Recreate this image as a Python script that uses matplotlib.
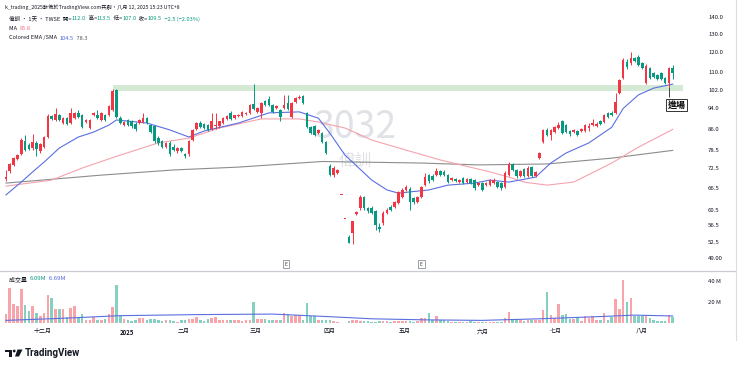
import matplotlib
matplotlib.use("Agg")
import matplotlib.pyplot as plt
import numpy as np
import matplotlib.transforms as mtransforms
from matplotlib.patches import Polygon, Circle

plt.rcParams['font.family'] = ['Noto Sans CJK TC', 'DejaVu Sans']

# ---------------- data ----------------
opens = [69.2, 71.6, 73.6, 75.5, 77.0, 81.6, 80.3, 79.0, 80.8, 78.0,
         79.6, 83.0, 90.9, 89.4, 91.3, 88.2, 90.1, 88.2, 90.1, 92.2,
         91.3, 88.6, 86.3, 91.3, 91.3, 89.4, 91.3, 91.3, 93.4, 101.9,
         90.0, 87.5, 89.2, 89.0, 88.0, 88.2, 88.6, 90.0, 87.5, 87.0,
         82.5, 81.5, 79.5, 81.0, 79.5, 78.0, 79.0, 77.0, 77.0, 82.0,
         86.0, 88.2, 87.8, 87.3, 86.0, 87.0, 87.0, 88.3, 89.9, 92.0,
         90.0, 90.8, 90.8, 91.8, 92.2, 95.8, 92.6, 92.2, 97.1, 98.0,
         95.4, 94.1, 93.4, 94.1, 96.2, 90.5, 96.6, 98.4, 99.3, 92.2,
         86.6, 87.0, 84.4, 84.4, 81.2, 73.2, 70.3, 71.0, 64.5, 58.1,
         53.8, 54.6, 59.3, 60.9, 63.9, 60.9, 61.0, 60.1, 56.2, 57.0,
         59.6, 61.2, 61.2, 62.3, 63.9, 65.9, 66.2, 63.7, 62.5, 63.9,
         67.3, 70.3, 70.0, 70.3, 71.6, 71.3, 70.3, 68.8, 69.1, 68.2,
         69.4, 68.2, 69.1, 68.8, 67.3, 67.9, 67.3, 67.3, 67.9, 68.2,
         67.9, 66.7, 70.3, 73.8, 71.9, 69.9, 72.2, 69.9, 72.9, 69.9,
         75.7, 81.2, 85.6, 83.7, 84.8, 86.3, 88.9, 87.4, 85.2, 84.8,
         85.2, 85.2, 85.2, 86.3, 87.4, 87.0, 88.9, 88.6, 92.2, 92.2,
         92.2, 100.6, 107.2, 115.0, 114.5, 117.1, 117.6, 114.5, 105.0, 112.0,
         109.6, 108.6, 109.6, 107.2, 105.0, 112.0]
highs = [71.8, 74.2, 76.0, 77.2, 82.8, 83.8, 81.0, 84.0, 81.5, 80.8,
         83.5, 91.6, 91.3, 94.1, 91.7, 90.5, 90.5, 94.1, 92.6, 93.4,
         91.7, 89.8, 89.8, 92.6, 93.4, 92.6, 91.7, 95.4, 102.5, 102.3,
         90.8, 89.0, 89.8, 89.5, 88.5, 89.8, 92.3, 90.5, 88.0, 87.5,
         83.5, 82.0, 81.3, 81.5, 80.5, 79.5, 79.3, 77.5, 81.8, 86.0,
         88.5, 88.8, 88.2, 87.8, 92.0, 92.0, 89.0, 90.5, 91.2, 92.8,
         91.5, 91.8, 93.0, 92.6, 95.8, 104.5, 94.6, 96.6, 97.6, 99.3,
         95.8, 95.4, 93.8, 99.7, 99.7, 96.6, 98.8, 99.7, 99.7, 92.6,
         87.0, 87.4, 86.0, 84.8, 81.6, 73.8, 73.0, 72.3, 64.5, 58.1,
         54.2, 57.6, 60.2, 64.5, 64.3, 61.2, 61.4, 60.5, 57.0, 60.0,
         60.8, 61.6, 62.9, 65.6, 66.4, 67.3, 66.7, 64.0, 64.3, 67.1,
         71.0, 70.6, 70.5, 72.6, 72.0, 71.8, 70.6, 69.8, 69.5, 69.2,
         69.8, 69.5, 69.5, 69.2, 68.3, 68.2, 68.3, 69.2, 69.5, 68.5,
         68.2, 71.6, 74.5, 74.2, 72.3, 72.0, 72.6, 73.0, 73.3, 71.6,
         77.8, 86.0, 86.3, 86.0, 87.0, 88.6, 89.4, 87.8, 85.6, 86.0,
         85.6, 86.3, 87.8, 88.2, 89.8, 88.6, 89.4, 91.8, 92.6, 92.8,
         100.6, 107.0, 117.0, 116.5, 120.2, 117.6, 118.6, 115.0, 114.0, 112.5,
         110.0, 109.1, 110.0, 107.6, 112.4, 113.5]
lows = [68.6, 71.0, 73.2, 75.0, 76.6, 78.0, 78.3, 78.6, 76.5, 77.5,
        79.0, 82.5, 89.4, 89.0, 89.0, 87.8, 87.4, 87.8, 89.8, 90.1,
        86.3, 88.2, 85.9, 90.9, 89.8, 89.0, 89.0, 90.9, 93.0, 90.3,
        87.8, 87.0, 87.0, 86.5, 85.3, 87.8, 88.2, 88.0, 84.5, 80.8,
        80.3, 79.0, 79.0, 76.5, 78.2, 77.5, 77.8, 75.8, 76.5, 81.6,
        85.6, 86.3, 86.0, 85.2, 85.5, 86.0, 86.5, 88.0, 89.5, 89.5,
        89.6, 90.4, 90.4, 91.4, 91.8, 93.4, 92.2, 90.1, 95.0, 95.0,
        92.2, 93.8, 89.0, 93.8, 93.4, 90.1, 96.2, 98.0, 95.8, 86.2,
        84.0, 83.3, 84.0, 80.8, 77.0, 70.0, 69.8, 70.6, 64.5, 58.1,
        52.3, 52.0, 59.0, 60.5, 60.5, 59.6, 59.3, 55.3, 54.8, 56.6,
        59.3, 60.0, 60.9, 62.0, 63.5, 65.5, 60.4, 62.0, 62.2, 63.5,
        67.0, 68.0, 68.4, 70.0, 70.0, 70.0, 67.9, 68.5, 68.2, 67.9,
        67.6, 67.9, 67.6, 66.0, 67.0, 65.5, 67.0, 67.0, 67.6, 66.4,
        66.0, 66.4, 70.0, 71.6, 69.5, 69.6, 69.7, 69.6, 69.6, 69.6,
        75.4, 80.8, 83.3, 81.9, 84.4, 86.0, 84.0, 84.4, 83.3, 84.4,
        83.3, 84.8, 84.8, 85.2, 87.0, 86.6, 87.4, 88.2, 90.1, 90.9,
        91.8, 100.2, 106.8, 111.8, 113.8, 115.0, 113.0, 111.5, 104.5, 106.8,
        107.2, 106.6, 106.4, 104.5, 103.2, 107.0]
closes = [69.6, 73.8, 75.6, 76.8, 82.0, 78.5, 78.8, 81.2, 78.8, 80.4,
          83.0, 91.0, 89.8, 91.7, 89.4, 90.1, 87.8, 92.2, 92.2, 90.5,
          86.6, 89.4, 89.4, 92.2, 90.1, 92.2, 89.4, 95.0, 101.5, 90.7,
          88.2, 88.5, 87.5, 87.0, 85.8, 89.4, 90.0, 88.2, 84.8, 81.5,
          80.8, 79.4, 81.0, 77.2, 78.4, 79.0, 78.2, 76.3, 81.5, 85.6,
          88.2, 86.8, 86.4, 85.5, 88.8, 87.4, 88.8, 90.0, 90.8, 89.8,
          91.3, 91.4, 92.6, 92.3, 95.4, 93.8, 94.1, 96.2, 95.4, 95.4,
          92.6, 95.0, 90.5, 95.4, 93.8, 96.2, 98.4, 98.8, 96.2, 86.6,
          84.4, 83.7, 85.6, 81.2, 77.4, 70.3, 72.5, 71.9, 64.5, 58.1,
          52.4, 57.6, 59.9, 63.9, 60.9, 60.0, 59.7, 56.5, 55.6, 59.6,
          60.4, 60.4, 62.5, 65.3, 65.9, 66.7, 62.5, 62.5, 63.9, 66.7,
          69.7, 68.5, 68.8, 71.6, 70.3, 70.3, 68.2, 69.4, 68.5, 68.8,
          67.9, 69.1, 67.9, 66.4, 67.9, 65.9, 67.9, 68.8, 68.8, 66.7,
          66.4, 70.9, 73.8, 71.9, 69.9, 71.6, 70.0, 72.6, 69.9, 71.2,
          77.4, 85.6, 83.7, 85.6, 86.6, 87.4, 84.4, 84.8, 84.0, 85.6,
          83.7, 85.8, 87.4, 87.0, 88.2, 87.8, 87.8, 91.3, 90.5, 91.3,
          96.6, 106.4, 116.1, 112.4, 117.1, 115.6, 113.6, 112.0, 113.0, 107.2,
          107.7, 107.0, 106.8, 105.0, 112.0, 109.5]
volumes = [8.6, 33, 18, 16, 32, 17, 11.5, 16, 9.5, 6.7,
           9.5, 26.7, 24, 13, 13, 13, 6, 14, 16, 5,
           8.6, 3, 3, 6, 2.5, 2.5, 4, 8.6, 15, 36,
           7, 4, 3, 1.5, 3, 4.5, 4.5, 2.5, 4, 4,
           2.5, 1.5, 3, 3, 1.5, 0.7, 2.5, 2.5, 4, 4,
           6, 3, 1.5, 4, 4.5, 6, 3, 3, 3, 3,
           2.5, 3, 1.5, 3, 3, 20, 4, 4, 4, 3,
           2.5, 3, 3, 9.5, 9, 7, 8, 8, 3, 19,
           7, 7, 3, 2.5, 3, 3, 1.5, 1, 0.3, 0.4,
           1.5, 2.5, 2.5, 1.5, 1.5, 1.5, 1.0, 1.0, 1.5, 1.5,
           1.5, 1.0, 2.0, 1.5, 2.0, 1.5, 1.5, 0.8, 1.5, 4.5,
           5, 9.5, 3, 7, 2.5, 2.5, 1.5, 0.8, 0.8, 0.8,
           1.0, 0.8, 1.5, 1.2, 0.8, 0.8, 1.0, 1.0, 1.0, 1.0,
           1.0, 4.5, 10.5, 3.5, 3, 2.5, 1.5, 3, 3, 3,
           2.5, 12, 29.5, 8, 4.5, 18, 8, 9, 4, 4,
           4.5, 1.5, 7, 4.5, 7, 3, 3, 9.5, 3, 6,
           23, 13, 41, 20, 24, 7, 7, 7, 8, 4.5,
           3, 1.5, 1.5, 1.5, 8, 6.09]

# Colored EMA (blue), MA (pink), SMA (gray) sampled at bar indices
ema_idx = [0, 4, 7, 10, 14, 19, 23, 27, 29, 37, 43, 48, 52, 61, 69, 77, 82, 85,
           89, 96, 100, 103, 111, 116, 123, 127, 132, 139, 143, 147, 153, 159,
           162, 166, 170, 175]
ema_val = [64.5, 68.2, 71.3, 74.4, 79.1, 83.0, 84.8, 87.4, 89.4, 88.2, 85.6, 83.0,
           85.2, 88.2, 92.2, 92.6, 90.1, 84.4, 76.7, 68.8, 65.9, 65.0, 65.9, 67.3,
           67.9, 68.8, 68.2, 69.7, 74.1, 77.4, 80.9, 86.6, 94.0, 99.7, 102.7, 104.5]
ma_idx = [0, 12, 20, 29, 40, 48, 56, 67, 77, 82, 89, 96, 105, 114, 127, 132, 136,
          142, 149, 159, 166, 175]
ma_val = [67.0, 68.8, 72.5, 76.3, 80.9, 82.6, 86.3, 89.8, 89.8, 88.6, 86.3, 81.9,
          78.4, 75.1, 71.3, 69.7, 68.2, 67.3, 68.2, 74.1, 79.4, 85.8]
sma_idx = [0, 25, 44, 61, 83, 109, 124, 142, 159, 175]
sma_val = [67.9, 70.3, 71.9, 72.8, 74.6, 74.1, 73.5, 73.8, 75.7, 78.3]
vma_idx = [0, 15, 30, 50, 70, 85, 96, 110, 125, 140, 155, 165, 175]
vma_val = [2.5, 4.5, 7.0, 8.0, 8.5, 6.0, 4.0, 3.0, 2.5, 4.0, 6.0, 7.5, 6.69]

price_ticks = [140.0, 130.0, 120.0, 110.0, 102.0, 94.0, 86.0, 78.5, 72.5, 66.5,
               60.5, 56.5, 52.5, 49.0]
price_labels = ['140.0', '130.0', '120.0', '110.0', '102.0', '94.0', '86.0', '78.5',
                '72.5', '66.5', '60.5', '56.5', '52.5', '49.00']
vol_ticks = [20, 40]
vol_labels = ['20 M', '40 M']
month_pos = [9.7, 31.8, 46.7, 65.4, 85.0, 104.7, 125.2, 144.4, 166.9]
month_labels = ['十二月', '2025', '二月', '三月', '四月', '五月', '六月', '七月', '八月']
earn_idx = [73.5, 109]
band_lo, band_hi, band_start = 101.5, 104.3, 28.1
entry_idx = 174

# ---------------- figure ----------------
W, H = 740, 367
fig = plt.figure(figsize=(W / 100, H / 100), dpi=100)
fig.patch.set_facecolor('white')

def fy(py):
    return 1 - py / H

RED = '#f23645'
GREEN = '#089981'
RED_V = '#f7a5ab'
GREEN_V = '#86cfc3'
TXT = '#131722'
FS = 4.3
FS_HEAD = 4.05

ax = fig.add_axes([0, fy(270), 683 / W, (270 - 3) / H])
vax = fig.add_axes([0, fy(323), 683 / W, (323 - 272) / H], sharex=ax)

o = np.array(opens); h = np.array(highs); l = np.array(lows); c = np.array(closes)
v = np.array(volumes)
idx = np.arange(len(c))
up = c >= o
col = np.where(up, RED, GREEN)
vcol = np.where(up, RED_V, GREEN_V)

ax.set_yscale('log')
ax.set_ylim(46.5, 148.8)
ax.set_xlim(-1.57, 177.7)

# watermark
ax.text(0.52, 0.535, '3032', transform=ax.transAxes, fontsize=27, color='#e0e2e7',
        ha='center', va='center', zorder=0)
ax.text(0.52, 0.405, '偉訓', transform=ax.transAxes, fontsize=12, color='#e0e2e7',
        ha='center', va='center', zorder=0)

# resistance band
ax.fill_between([band_start, 177.7], band_lo, band_hi, color='#d5ead4', lw=0, zorder=1)

# moving averages
ax.plot(sma_idx, sma_val, color='#8c8c8c', lw=0.8, zorder=2)
ax.plot(ma_idx, ma_val, color='#f4a3ad', lw=0.8, zorder=2)
ax.plot(ema_idx, ema_val, color='#5a6fe0', lw=0.8, zorder=2)

# candles
ax.vlines(idx, l, h, colors=col, lw=0.7, zorder=3)
ax.bar(idx, np.maximum(np.abs(c - o), 0.15), bottom=np.minimum(o, c), width=0.68,
       color=col, lw=0, zorder=4)

# entry annotation
ax.vlines(entry_idx, 98.6, l[entry_idx], colors='#444444', lw=0.7, zorder=5)
ax.text(entry_idx - 0.3, 95.3, '進場', fontsize=6.5, fontweight='bold', color='black',
        ha='left', va='center', zorder=6,
        bbox=dict(boxstyle='square,pad=0.18', fc='white', ec='#333333', lw=0.7))

# earnings markers
trans = mtransforms.blended_transform_factory(ax.transData, ax.transAxes)
for e in earn_idx:
    ax.text(e, 0.022, 'E', transform=trans, fontsize=3.6, color='#333333',
            ha='center', va='center', zorder=6,
            bbox=dict(boxstyle='square,pad=0.35', fc='white', ec='#8a8e99', lw=0.6))

ax.yaxis.tick_right()
ax.set_yticks(price_ticks)
ax.set_yticklabels(price_labels)
ax.yaxis.set_minor_locator(matplotlib.ticker.NullLocator())
ax.tick_params(axis='y', length=0, pad=18, labelsize=FS, labelcolor=TXT)
ax.tick_params(axis='x', bottom=False, labelbottom=False)
for s in ax.spines.values():
    s.set_visible(False)

# volume
vax.bar(idx, v, width=0.68, color=vcol, lw=0)
vax.plot(vma_idx, vma_val, color='#5a6fe0', lw=0.8)
vax.set_ylim(0, 48.6)
vax.yaxis.tick_right()
vax.set_yticks(vol_ticks)
vax.set_yticklabels(vol_labels)
vax.tick_params(axis='y', length=0, pad=18, labelsize=FS, labelcolor=TXT)
vax.set_xticks(month_pos)
vax.set_xticklabels(month_labels)
vax.tick_params(axis='x', length=0, pad=4, labelsize=FS, labelcolor=TXT)
for t in vax.get_xticklabels():
    if t.get_text() == '2025':
        t.set_fontweight('bold')
for s in vax.spines.values():
    s.set_visible(False)
vax.patch.set_alpha(0)

# overlay in pixel coordinates
ov = fig.add_axes([0, 0, 1, 1], zorder=10)
ov.set_xlim(0, W)
ov.set_ylim(H, 0)
ov.axis('off')

ov.plot([0, 736], [271, 271], color='#c9ccd3', lw=0.9)
ov.plot([736, 736], [0, 340], color='#d9dce2', lw=0.8)

renderer = fig.canvas.get_renderer()

def rich(x, y, parts, size):
    for s, colr in parts:
        t = ov.text(x, y, s, color=colr, fontsize=size, ha='left', va='center')
        x += t.get_window_extent(renderer).width

rich(5, 7, [('k_trading_2025發佈於TradingView.com共創，八月 12, 2025 15:23 UTC+8', TXT)], 3.75)
rich(9, 19, [('偉訓 · 1天 · TWSE  開=', TXT), ('112.0', GREEN), ('  高=', TXT), ('113.5', GREEN),
             ('  低=', TXT), ('107.0', GREEN), ('  收=', TXT), ('109.5', GREEN),
             ('  −2.5 (−2.03%)', GREEN)], FS_HEAD)
rich(9, 29, [('MA  ', TXT), ('85.8', '#f06b85')], FS_HEAD)
rich(9, 38, [('Colored EMA /SMA  ', TXT), ('104.5', '#4d66dd'), ('  78.3', '#555555')], FS_HEAD)
rich(9, 279, [('成交量  ', TXT), ('6.09M', GREEN), ('  6.69M', '#4d66dd')], FS)

# TradingView logo
ov.add_patch(Polygon([[5, 349.5], [12, 349.5], [12, 356.5], [9, 356.5], [9, 352.3], [5, 352.3]],
                     closed=True, color=TXT, lw=0))
ov.add_patch(Circle((14.2, 351.0), 1.4, color=TXT, lw=0))
ov.add_patch(Polygon([[17.5, 349.5], [22.5, 349.5], [19.0, 356.5], [15.0, 356.5]],
                     closed=True, color=TXT, lw=0))
ov.text(24.5, 352.5, 'TradingView', fontsize=7, fontweight='bold', color=TXT,
        family=['Roboto', 'DejaVu Sans'], ha='left', va='center')

fig.savefig('out.png', dpi=100)
